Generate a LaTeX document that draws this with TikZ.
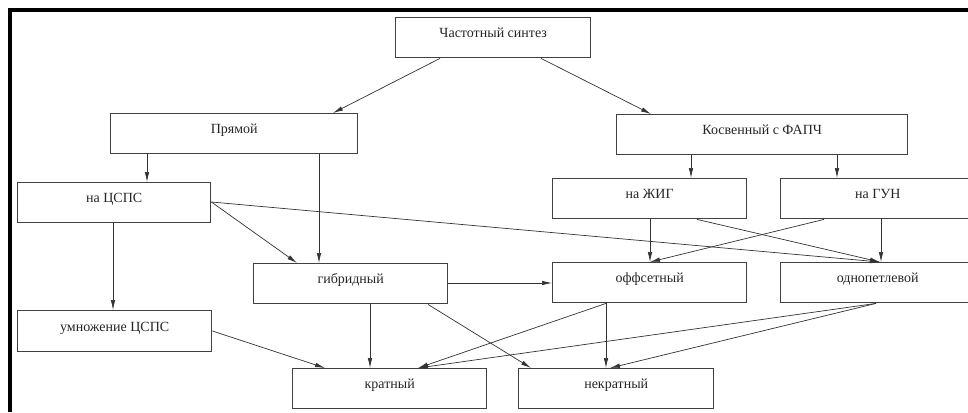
\documentclass[tikz,border=0pt]{standalone}
\usepackage{fontspec}
\setmainfont{Liberation Serif}
\usetikzlibrary{arrows.meta}
\begin{document}
\begin{tikzpicture}[x=1pt,y=-1pt,
  box/.style={draw=black!75, line width=1.4pt, rectangle, anchor=north west,
    minimum height=40pt, inner sep=0pt, text height=7.5pt, text depth=7.5pt,
    font=\fontsize{14}{16}\selectfont, text=black!85},
  link/.style={draw=black!80, line width=0.7pt, -{Latex[length=10pt,width=4.5pt]}}]
\useasboundingbox (0,0) rectangle (968,412);
\fill[white] (0,0) rectangle (968,412);
\begin{scope}
\clip (0,0) rectangle (968,412);
% frame
\draw[line width=4pt, black] (10,412) -- (10,10) -- (968,10);
% boxes
\node[box, minimum width=195pt] (top) at (395,17) {Частотный синтез};
\node[box, minimum width=247pt] (pr) at (110,113) {Прямой};
\node[box, minimum width=291pt] (kos) at (616,114) {Косвенный с ФАПЧ};
\node[box, minimum width=193pt] (cs) at (17,182) {на ЦСПС};
\node[box, minimum width=194pt] (zhig) at (552,178) {на ЖИГ};
\node[box, minimum width=194pt] (gun) at (780,178) {на ГУН};
\node[box, minimum width=194pt] (gib) at (253,263) {гибридный};
\node[box, minimum width=194pt] (off) at (552,262) {оффсетный};
\node[box, minimum width=194pt] (odn) at (780,262) {однопетлевой};
\node[box, minimum width=194pt, minimum height=41pt] (umn) at (17,310) {умножение ЦСПС};
\node[box, minimum width=194pt] (kr) at (292,368) {кратный};
\node[box, minimum width=195pt] (nkr) at (518,368) {некратный};
% connectors
\draw[link] (top.south -| 440,0) -- (pr.north -| 333,0);
\draw[link] (top.south -| 541,0) -- (kos.north -| 651,0);
\draw[link] (pr.south -| 147,0) -- (cs.north -| 147,0);
\draw[link] (pr.south -| 319,0) -- (gib.north -| 319,0);
\draw[link] (kos.south -| 691,0) -- (zhig.north -| 691,0);
\draw[link] (kos.south -| 837,0) -- (gun.north -| 837,0);
\draw[link] (cs.east |- 0,202) -- (gib.north -| 297,0);
\draw[link] (cs.east |- 0,202) -- (odn.north -| 880,0);
\draw[link] (cs.south -| 113,0) -- (umn.north -| 113,0);
\draw[link] (zhig.south -| 650,0) -- (off.north -| 650,0);
\draw[link] (zhig.south -| 697,0) -- (odn.north -| 880,0);
\draw[link] (gun.south -| 824,0) -- (off.north -| 650,0);
\draw[link] (gun.south -| 881,0) -- (odn.north -| 881,0);
\draw[link] (gib.east |- 0,283) -- (off.west |- 0,283);
\draw[link] (gib.south -| 370,0) -- (kr.north -| 370,0);
\draw[link] (gib.south -| 428,0) -- (nkr.north -| 531,0);
\draw[link] (umn.east |- 0,331) -- (kr.north -| 325,0);
\draw[link] (off.south -| 606,0) -- (kr.north -| 418,0);
\draw[link] (off.south -| 606,0) -- (nkr.north -| 606,0);
\draw[link] (odn.south -| 876,0) -- (kr.north -| 418,0);
\draw[link] (odn.south -| 876,0) -- (nkr.north -| 610,0);
\end{scope}
\end{tikzpicture}
\end{document}
